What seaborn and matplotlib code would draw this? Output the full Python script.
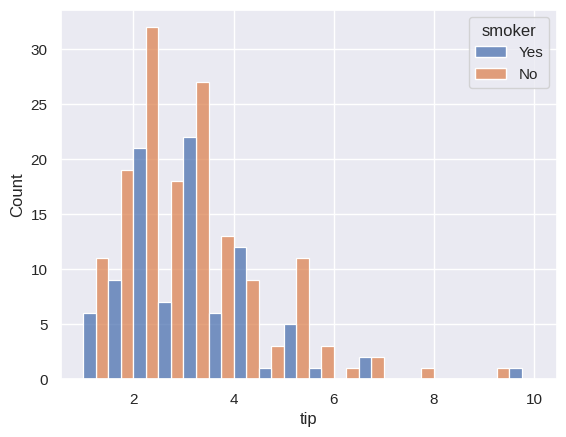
import numpy as np
import pandas as pd
import matplotlib
matplotlib.use("Agg")
import matplotlib.pyplot as plt
import seaborn as sns

# bin edges of the tip histogram (width 0.5 from 1 to 10)
bin_edges = np.linspace(1, 10, 19)
bin_centers = (bin_edges[:-1] + bin_edges[1:]) / 2

# counts per bin
yes_counts = [6, 9, 21, 7, 22, 6, 12, 1, 5, 1, 0, 2, 0, 0, 0, 0, 0, 1]
no_counts = [11, 19, 32, 18, 27, 13, 9, 3, 11, 3, 1, 2, 0, 1, 0, 0, 1, 0]

df = pd.DataFrame({
    "tip": np.concatenate([bin_centers, bin_centers]),
    "smoker": ["Yes"] * len(bin_centers) + ["No"] * len(bin_centers),
    "count": yes_counts + no_counts,
})

sns.set_theme()
plt.rcParams['font.family'] = ['Liberation Sans', 'DejaVu Sans']

fig, ax = plt.subplots(figsize=(6.4, 4.8), dpi=100)
sns.histplot(data=df, x="tip", hue="smoker", weights="count",
             hue_order=["Yes", "No"], binwidth=0.5, binrange=(1, 10),
             multiple="dodge", ax=ax)
ax.set_ylabel("Count")

plt.savefig("out.png", dpi=100, bbox_inches="tight")
